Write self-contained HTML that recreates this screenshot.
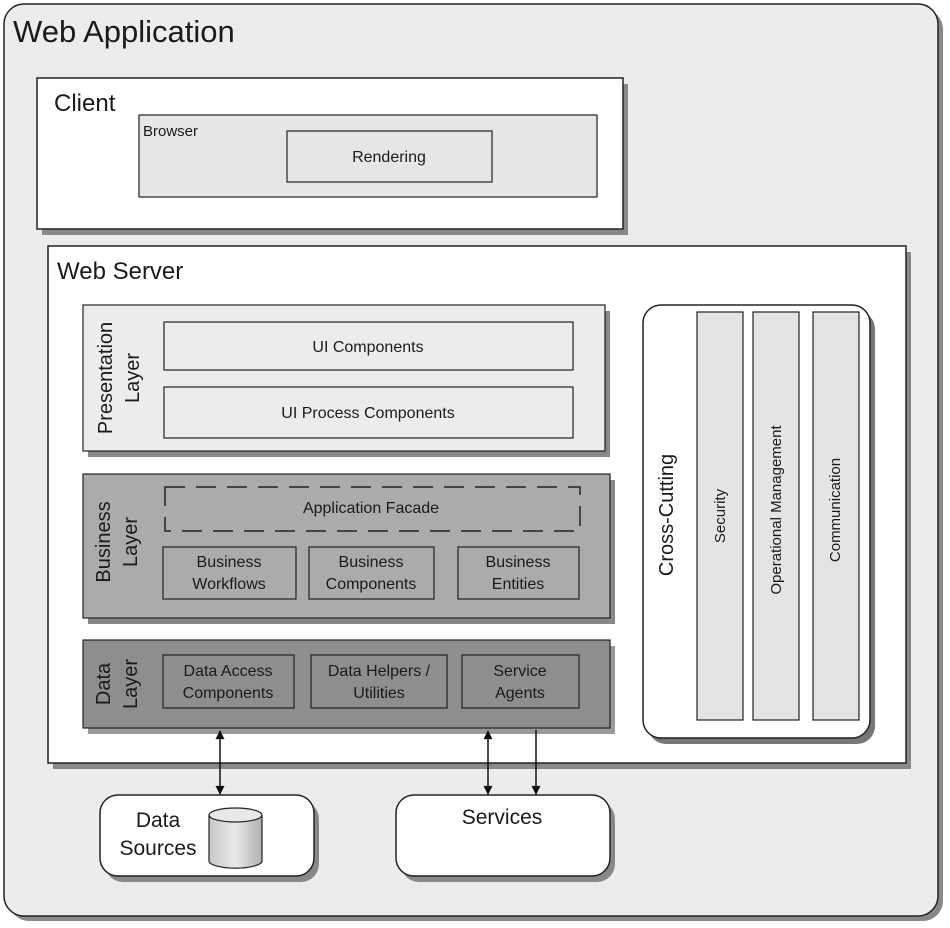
<!DOCTYPE html>
<html><head><meta charset="utf-8"><style>
html,body{margin:0;padding:0;background:#fff;}
svg{display:block;}
text{font-family:"Liberation Sans",Arial,sans-serif;fill:#1a1a1a;}
</style></head><body>
<svg width="950" height="928" viewBox="0 0 950 928" xmlns="http://www.w3.org/2000/svg">
<defs>
<marker id="ah" viewBox="0 0 10 10" refX="9" refY="5" markerWidth="12" markerHeight="9" orient="auto-start-reverse" markerUnits="userSpaceOnUse"><path d="M0,0 L10,5 L0,10 z" fill="#111"/></marker>
<linearGradient id="cyl" x1="0" x2="1"><stop offset="0" stop-color="#c8c8c8"/><stop offset="0.5" stop-color="#e8e8e8"/><stop offset="1" stop-color="#b0b0b0"/></linearGradient>
</defs>
<rect x="9" y="9" width="934" height="912" rx="20" fill="#888"/>
<rect x="4" y="4" width="934" height="912" rx="20" fill="#ececec" stroke="#222" stroke-width="1.5"/>
<text x="13" y="42" font-size="31">Web Application</text>

<rect x="42" y="84" width="586" height="151" fill="#888"/>
<rect x="37" y="78" width="586" height="151" fill="#fff" stroke="#222" stroke-width="1.5"/>
<text x="54" y="111" font-size="24">Client</text>
<rect x="139" y="115" width="458" height="82" fill="#e6e6e6" stroke="#222" stroke-width="1.2"/>
<text x="143" y="136" font-size="15">Browser</text>
<rect x="287" y="131" width="205" height="51" fill="#e6e6e6" stroke="#222" stroke-width="1.2"/>
<text x="389" y="162" font-size="16" text-anchor="middle">Rendering</text>

<rect x="53" y="252" width="858" height="517" fill="#888"/>
<rect x="48" y="246" width="858" height="517" fill="#fff" stroke="#222" stroke-width="1.5"/>
<text x="57" y="279" font-size="24">Web Server</text>

<rect x="88" y="311" width="522" height="146" fill="#888"/>
<rect x="83" y="305" width="522" height="146" fill="#ececec" stroke="#222" stroke-width="1.2"/>
<text transform="translate(112,378) rotate(-90)" font-size="20" text-anchor="middle">Presentation</text>
<text transform="translate(139,378) rotate(-90)" font-size="20" text-anchor="middle">Layer</text>
<rect x="164" y="322" width="409" height="48" fill="#ececec" stroke="#222" stroke-width="1.2"/>
<text x="368" y="352" font-size="16" text-anchor="middle">UI Components</text>
<rect x="164" y="387" width="409" height="51" fill="#ececec" stroke="#222" stroke-width="1.2"/>
<text x="368" y="418" font-size="16" text-anchor="middle">UI Process Components</text>

<rect x="88" y="480" width="527" height="144" fill="#888"/>
<rect x="83" y="474" width="527" height="144" fill="#ababab" stroke="#222" stroke-width="1.2"/>
<text transform="translate(110,542) rotate(-90)" font-size="20" text-anchor="middle">Business</text>
<text transform="translate(137,542) rotate(-90)" font-size="20" text-anchor="middle">Layer</text>
<rect x="165" y="487" width="415" height="44" fill="none" stroke="#222" stroke-width="1.5" stroke-dasharray="20,11"/>
<text x="371" y="513" font-size="16" text-anchor="middle">Application Facade</text>
<rect x="163" y="547" width="133" height="52" fill="#ababab" stroke="#222" stroke-width="1.2"/>
<text x="229" y="567" font-size="16" text-anchor="middle">Business</text>
<text x="229" y="589" font-size="16" text-anchor="middle">Workflows</text>
<rect x="309" y="547" width="125" height="52" fill="#ababab" stroke="#222" stroke-width="1.2"/>
<text x="371" y="567" font-size="16" text-anchor="middle">Business</text>
<text x="371" y="589" font-size="16" text-anchor="middle">Components</text>
<rect x="458" y="547" width="121" height="52" fill="#ababab" stroke="#222" stroke-width="1.2"/>
<text x="518" y="567" font-size="16" text-anchor="middle">Business</text>
<text x="518" y="589" font-size="16" text-anchor="middle">Entities</text>

<rect x="88" y="646" width="527" height="88" fill="#999"/>
<rect x="83" y="640" width="527" height="88" fill="#8e8e8e" stroke="#222" stroke-width="1.2"/>
<text transform="translate(110,684) rotate(-90)" font-size="20" text-anchor="middle">Data</text>
<text transform="translate(137,684) rotate(-90)" font-size="20" text-anchor="middle">Layer</text>
<rect x="163" y="655" width="131" height="53" fill="#8e8e8e" stroke="#222" stroke-width="1.2"/>
<text x="228" y="676" font-size="16" text-anchor="middle">Data Access</text>
<text x="228" y="698" font-size="16" text-anchor="middle">Components</text>
<rect x="311" y="655" width="136" height="53" fill="#8e8e8e" stroke="#222" stroke-width="1.2"/>
<text x="379" y="676" font-size="16" text-anchor="middle">Data Helpers /</text>
<text x="379" y="698" font-size="16" text-anchor="middle">Utilities</text>
<rect x="462" y="655" width="117" height="53" fill="#8e8e8e" stroke="#222" stroke-width="1.2"/>
<text x="520" y="676" font-size="16" text-anchor="middle">Service</text>
<text x="520" y="698" font-size="16" text-anchor="middle">Agents</text>

<rect x="648" y="311" width="227" height="433" rx="18" fill="#777"/>
<rect x="643" y="305" width="227" height="433" rx="18" fill="#fff" stroke="#222" stroke-width="1.5"/>
<text transform="translate(673,515) rotate(-90)" font-size="20" text-anchor="middle">Cross-Cutting</text>
<rect x="697" y="312" width="46" height="408" fill="#e4e4e4" stroke="#222" stroke-width="1.2"/>
<text transform="translate(725,516) rotate(-90)" font-size="15" text-anchor="middle">Security</text>
<rect x="753" y="312" width="46" height="408" fill="#e4e4e4" stroke="#222" stroke-width="1.2"/>
<text transform="translate(781,510) rotate(-90)" font-size="15" text-anchor="middle">Operational Management</text>
<rect x="813" y="312" width="46" height="408" fill="#e4e4e4" stroke="#222" stroke-width="1.2"/>
<text transform="translate(840,510) rotate(-90)" font-size="15" text-anchor="middle">Communication</text>

<line x1="220" y1="731" x2="220" y2="794" stroke="#111" stroke-width="1.5" marker-start="url(#ah)" marker-end="url(#ah)"/>
<line x1="488" y1="731" x2="488" y2="794" stroke="#111" stroke-width="1.5" marker-start="url(#ah)" marker-end="url(#ah)"/>
<line x1="536" y1="730" x2="536" y2="794" stroke="#111" stroke-width="1.5" marker-end="url(#ah)"/>

<rect x="105" y="801" width="214" height="81" rx="18" fill="#888"/>
<rect x="100" y="795" width="214" height="81" rx="18" fill="#fff" stroke="#222" stroke-width="1.5"/>
<text x="158" y="827" font-size="21" text-anchor="middle">Data</text>
<text x="158" y="855" font-size="21" text-anchor="middle">Sources</text>
<path d="M209,815 L209,861 A26,7 0 0 0 262,861 L262,815" fill="url(#cyl)" stroke="#222" stroke-width="1.2"/>
<ellipse cx="235.5" cy="815" rx="26.5" ry="7" fill="#e8e8e8" stroke="#222" stroke-width="1.2"/>

<rect x="401" y="801" width="214" height="81" rx="18" fill="#888"/>
<rect x="396" y="795" width="214" height="81" rx="18" fill="#fff" stroke="#222" stroke-width="1.5"/>
<text x="502" y="824" font-size="21" text-anchor="middle">Services</text>
</svg>
</body></html>
